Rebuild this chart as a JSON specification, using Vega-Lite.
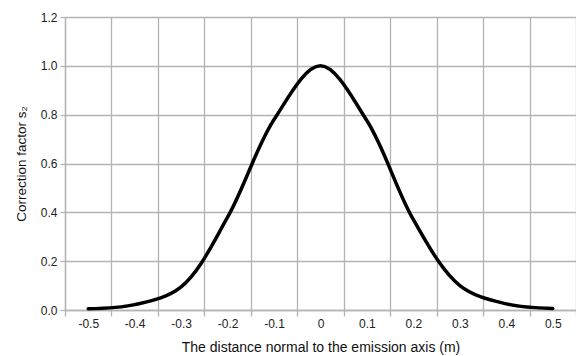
{
  "$schema": "https://vega.github.io/schema/vega-lite/v6.json",
  "autosize": {"type": "none"},
  "padding": {"left": 65, "top": 17, "right": 0, "bottom": 46},
  "width": 511,
  "height": 293,
  "background": "white",
  "config": {
    "view": {"stroke": null},
    "font": "Liberation Sans",
    "axis": {
      "labelFont": "Liberation Sans",
      "titleFont": "Liberation Sans",
      "labelFontSize": 12,
      "titleFontSize": 14,
      "titleFontWeight": "normal",
      "labelColor": "#222222",
      "titleColor": "#111111",
      "gridColor": "#b3b3b3",
      "gridOpacity": 1,
      "domainColor": "#b3b3b3",
      "tickColor": "#b3b3b3",
      "gridWidth": 1.3,
      "domainWidth": 1.3,
      "tickWidth": 1.3
    }
  },
  "data": {
    "values": [
      {"x": -0.5, "y": 0.005},
      {"x": -0.4, "y": 0.022},
      {"x": -0.3, "y": 0.095},
      {"x": -0.2, "y": 0.38},
      {"x": -0.1, "y": 0.78},
      {"x": 0, "y": 1.0},
      {"x": 0.1, "y": 0.775},
      {"x": 0.2, "y": 0.37},
      {"x": 0.3, "y": 0.1},
      {"x": 0.4, "y": 0.025},
      {"x": 0.5, "y": 0.006}
    ]
  },
  "mark": {"type": "line", "color": "black", "strokeWidth": 3.5, "interpolate": "catmull-rom", "strokeCap": "round"},
  "encoding": {
    "x": {
      "field": "x",
      "type": "quantitative",
      "scale": {"domain": [-0.55, 0.55], "nice": false, "zero": false},
      "axis": {
        "title": "The distance normal to the emission axis (m)",
        "values": [-0.55, -0.5, -0.45, -0.4, -0.35, -0.3, -0.25, -0.2, -0.15, -0.1, -0.05, 0, 0.05, 0.1, 0.15, 0.2, 0.25, 0.3, 0.35, 0.4, 0.45, 0.5, 0.55],
        "labelExpr": "round(datum.value*100) % 10 == 0 ? (round(datum.value*100) == 0 ? '0' : (datum.value < 0 ? '-' : '') + format(abs(datum.value), '.1f')) : ''",
        "gridOpacity": {"condition": {"test": "round(datum.value*100) % 10 == 0", "value": 0}, "value": 1},
        "tickOpacity": {"condition": {"test": "round(datum.value*100) % 10 == 0", "value": 0}, "value": 1},
        "tickSize": 6,
        "labelPadding": 2,
        "labelFlush": false,
        "labelOverlap": false,
        "titlePadding": 11
      }
    },
    "y": {
      "field": "y",
      "type": "quantitative",
      "scale": {"domain": [0, 1.2], "nice": false},
      "axis": {
        "title": "Correction factor s₂",
        "titleFontSize": 13.5,
        "values": [0, 0.2, 0.4, 0.6, 0.8, 1.0, 1.2],
        "format": ".1f",
        "tickSize": 5,
        "labelPadding": 3,
        "titlePadding": 12
      }
    }
  }
}
